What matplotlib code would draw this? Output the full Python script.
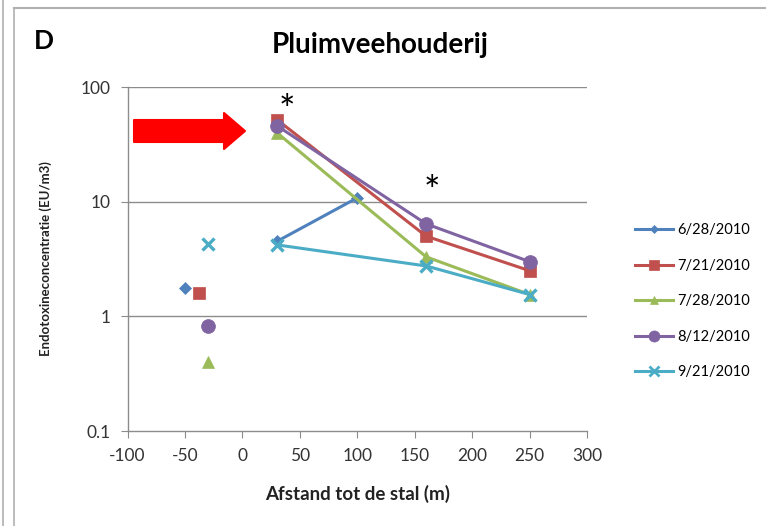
import numpy as np
import matplotlib
matplotlib.use('Agg')
import matplotlib.pyplot as plt
from matplotlib.patches import Polygon
from matplotlib.lines import Line2D

plt.rcParams['font.family'] = ['Lato', 'DejaVu Sans']

# Endotoxin measurements per sampling date (distance in m, EU/m3)
dates = ['6/28/2010', '7/21/2010', '7/28/2010', '8/12/2010', '9/21/2010']
colors = ['#4F81BD', '#C0504D', '#9BBB59', '#8064A2', '#4BACC6']
markers = ['D', 's', '^', 'o', 'x']

# upwind (reference) points, not connected
ref_x = [-50, -38, -30, -30, -30]
ref_y = [1.75, 1.6, 0.40, 0.82, 4.3]

# downwind transects
line_x = [
    [30, 100],
    [30, 160, 250],
    [30, 160, 250],
    [30, 160, 250],
    [30, 160, 250],
]
line_y = [
    [4.5, 10.8],
    [52, 5.0, 2.5],
    [40, 3.3, 1.55],
    [46, 6.4, 3.0],
    [4.2, 2.75, 1.55],
]

x_ticks = [-100, -50, 0, 50, 100, 150, 200, 250, 300]
y_ticks = [0.1, 1, 10, 100]
y_ticklabels = ['0.1', '1', '10', '100']

W, H = 766, 526
fig = plt.figure(figsize=(W / 100, H / 100), dpi=100)
ax = fig.add_axes([127.5 / W, 1 - 431 / H, (587 - 127.5) / W, (431 - 87) / H])

grid_c = '#8c8c8c'
for yv in y_ticks[1:]:
    ax.axhline(yv, color=grid_c, lw=1.0, zorder=1)

sizes = [6, 9, 8, 10, 9]
for i in range(len(dates)):
    mk = dict(marker=markers[i], color=colors[i], markersize=sizes[i],
              markeredgewidth=2.4 if markers[i] == 'x' else 0.5)
    ax.plot(line_x[i], line_y[i], lw=2.2, zorder=3, **mk)
    ax.plot([ref_x[i]], [ref_y[i]], ls='none', zorder=3, **mk)

ax.set_yscale('log')
ax.set_xlim(-100, 300)
ax.set_ylim(0.1, 100)
ax.set_xticks(x_ticks)
ax.set_xticklabels([str(v) for v in x_ticks])
ax.set_yticks(y_ticks)
ax.set_yticklabels(y_ticklabels)
ax.yaxis.set_minor_locator(matplotlib.ticker.NullLocator())
ax.tick_params(axis='both', length=5, color=grid_c, labelsize=12.5, labelcolor='#333333')
ax.tick_params(axis='x', pad=7)
ax.tick_params(axis='y', pad=7)
for s in ['top', 'right']:
    ax.spines[s].set_visible(False)
for s in ['left', 'bottom']:
    ax.spines[s].set_color(grid_c)
    ax.spines[s].set_linewidth(1.0)

ax.set_xlabel('Afstand tot de stal (m)', fontsize=13.5, fontweight='bold', labelpad=15, color='#222222')
ax.set_ylabel('Endotoxineconcentratie (EU/m3)', fontsize=9.5, fontweight='bold', color='#222222')
ax.yaxis.set_label_coords((52 - 127.5) / (587 - 127.5), 0.5)

# significance markers
ax.text(39, 61, '*', fontsize=28, ha='center', va='center', color='black')
ax.text(165, 11.8, '*', fontsize=28, ha='center', va='center', color='black')

fig.text(380 / W, 1 - 45 / H, 'Pluimveehouderij', fontsize=20, fontweight='bold',
         ha='center', va='center', color='black')
fig.text(34 / W, 1 - 41 / H, 'D', fontsize=19, fontweight='bold',
         ha='left', va='center', color='black')

# legend
handles = [Line2D([], [], color=colors[i], marker=markers[i], markersize=sizes[i] - 2,
                  lw=2.2, markeredgewidth=2 if markers[i] == 'x' else 0.5)
           for i in range(len(dates))]
fig.legend(handles, dates, loc='upper left', bbox_to_anchor=(622 / W, 1 - 210 / H),
           frameon=False, fontsize=10.5, handlelength=2.6, labelspacing=1.48,
           handletextpad=0.3)

# red arrow pointing at the first downwind point
def px(x, y):
    return (x / 100, (H - y) / 100)

arrow_pts = [px(134, 120), px(224, 120), px(224, 113), px(245, 131),
             px(224, 149), px(224, 142), px(134, 142)]
fig.patches.append(Polygon(arrow_pts, closed=True, facecolor='#ff0000', edgecolor='#ff0000',
                           lw=1.5, joinstyle='round', transform=fig.dpi_scale_trans))

# panel borders
fig.add_artist(Line2D([3 / W, 3 / W], [0, 1], color='#b0b0b0', lw=1.2))
fig.add_artist(Line2D([14 / W, 14 / W], [0, 1 - 8 / H], color='#b0b0b0', lw=1.2))
fig.add_artist(Line2D([14 / W, 1], [1 - 8 / H, 1 - 8 / H], color='#b0b0b0', lw=1.5))

fig.savefig('out.png', dpi=100)
